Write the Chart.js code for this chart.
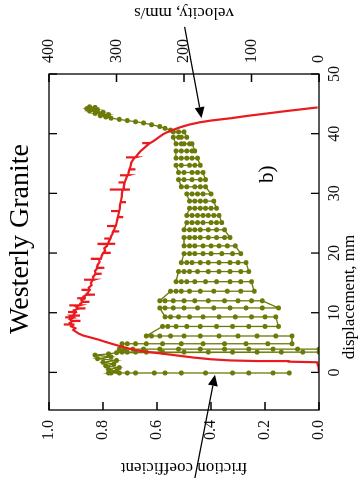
<!DOCTYPE html>
<html>
<head>
<meta charset="utf-8">
<script src="https://cdn.jsdelivr.net/npm/chart.js@4.4.1/dist/chart.umd.min.js"></script>
<style>
  html, body { margin: 0; padding: 0; background: #fff; overflow: hidden; }
  /* the figure is printed turned a quarter turn counter-clockwise */
  #wrap {
    position: absolute; left: 0; top: 0;
    width: 482px; height: 360px;
    transform-origin: 0 0;
    transform: translate(0, 482px) rotate(-90deg);
  }
</style>
</head>
<body>
<div id="wrap"><canvas id="chart" width="482" height="360"></canvas></div>
<script>
// axis ticks
const dispTicks = [0, 10, 20, 30, 40, 50];
const frictionTicks = [0, 0.2, 0.4, 0.6, 0.8, 1.0];
const velocityTicks = [0, 100, 200, 300, 400];

// slip velocity (mm/s) vs load point displacement (mm); one line per stretch
const velDisp = [
  0.0, 1.0, 1.7, 1.8, 1.9, 2.0, 2.2, 2.5, 2.9, 3.2, 3.5, 3.9, 4.3, 4.7, 5.1, 5.5, 5.9,
  6.2, 6.5, 6.8, 7.1, 7.4, 7.7, 8.0, 8.02, 8.04, 8.3, 8.6, 8.62, 8.64, 8.9,
  9.2, 9.22, 9.24, 9.5, 9.52, 9.54, 9.8, 10.1, 10.12, 10.14, 10.4, 10.7, 10.72, 10.74,
  11.0, 11.2, 11.22, 11.24, 11.5, 11.8, 11.82, 11.84, 12.1, 12.4, 12.42, 12.44, 12.7,
  13.0, 13.02, 13.04, 13.4, 13.8, 13.82, 13.84, 14.2, 14.6, 15.0, 15.5, 15.52, 15.54,
  16.0, 16.5, 16.52, 16.54, 17.0, 17.5, 17.52, 17.54, 18.0, 18.5, 19.0, 19.02, 19.04, 19.5,
  20.0, 20.02, 20.04, 20.4, 20.8, 21.2, 21.5, 21.52, 21.54, 21.56, 22.0, 22.4, 22.42, 22.44,
  22.8, 23.2, 23.6, 23.62, 23.64, 24.0, 24.5, 24.52, 24.54, 25.0, 25.5, 26.0, 26.02, 26.04,
  26.5, 27.0, 27.02, 27.04, 27.5, 28.0, 28.5, 28.52, 28.54, 29.0, 29.5, 30.0,
  30.6, 30.62, 30.64, 30.66, 31.2, 31.8, 31.82, 31.84, 32.4, 33.0, 33.02, 33.04, 33.5,
  34.0, 34.02, 34.04, 34.6, 35.2, 35.7, 36.0, 36.02, 36.04, 36.6, 37.0, 37.4, 37.8,
  38.2, 38.4, 38.42, 38.44, 38.7, 39.1, 39.5, 39.9, 40.2, 40.6, 41.1, 41.5,
  41.9, 42.2, 42.6, 43.0, 43.4, 43.8, 44.1, 44.4];
const velocity = [
  0, 1, 3, 45, 90, 130, 160, 187, 215, 236, 260, 278, 292, 304, 316, 327, 340,
  350, 356, 360, 364, 361, 367, 364, 378, 366, 369, 365, 355, 366, 369,
  363, 376, 364, 368, 354, 365, 363, 360, 372, 361, 363, 356, 346, 357,
  360, 356, 370, 355, 354, 350, 340, 351, 352, 347, 358, 348, 349,
  344, 332, 345, 342, 340, 352, 340, 341, 337, 338, 335, 348, 334,
  335, 331, 322, 331, 332, 328, 318, 329, 328, 325, 326, 338, 323, 322,
  320, 310, 319, 317, 318, 314, 314, 328, 302, 313, 311, 309, 318, 309,
  308, 306, 305, 296, 305, 303, 302, 314, 301, 300, 299, 298, 290, 298,
  297, 296, 308, 296, 295, 295, 294, 286, 294, 293, 292, 292,
  291, 310, 280, 290, 289, 288, 297, 288, 286, 284, 295, 283, 282,
  281, 272, 281, 279, 278, 275, 273, 286, 272, 268, 265, 261, 257,
  253, 251, 262, 250, 246, 241, 236, 231, 226, 217, 205, 193,
  177, 160, 130, 105, 76, 48, 25, 2];

// friction: first loading, stick-slip bands, final strengthening
const startDisp = -0.1;
const startFriction = [0.11, 0.17, 0.26, 0.32, 0.42, 0.51, 0.57, 0.61, 0.68, 0.71, 0.74, 0.77, 0.78];
const loadDisp = [0.2, 0.5, 0.8, 1.1, 1.4, 1.7, 2.0, 2.3, 2.6, 2.9, 3.1, 3.3];
const loadFriction = [0.75, 0.78, 0.74, 0.79, 0.76, 0.80, 0.75, 0.82, 0.77, 0.83, 0.78, 0.75];
const slipDisp = [3.4, 3.9, 4.8, 6.1, 7.7, 9.3, 10.8, 12.0, 13.6, 15.2, 16.9, 18.4, 19.9, 21.2, 22.6,
  23.9, 25.1, 26.3, 27.5, 28.7, 29.9, 31.1, 32.3, 33.5, 34.7, 35.9, 37.1, 38.3, 39.4, 40.3];
const slipFriction = [
  [0.73, 0.71, 0.68, 0.64, 0.58, 0.50, 0.41, 0.32, 0.23, 0.14, 0.06, 0.00],
  [0.74, 0.72, 0.69, 0.65, 0.59, 0.52, 0.44, 0.35, 0.26, 0.17, 0.08, 0.00],
  [0.73, 0.71, 0.68, 0.64, 0.58, 0.51, 0.43, 0.35, 0.27, 0.19, 0.10],
  [0.64, 0.62, 0.59, 0.55, 0.50, 0.44, 0.37, 0.30, 0.23, 0.16, 0.10],
  [0.58, 0.56, 0.53, 0.49, 0.44, 0.38, 0.32, 0.26, 0.20, 0.15],
  [0.57, 0.55, 0.52, 0.48, 0.43, 0.37, 0.31, 0.25, 0.20, 0.16],
  [0.59, 0.57, 0.54, 0.50, 0.45, 0.39, 0.33, 0.27, 0.21, 0.15],
  [0.59, 0.57, 0.54, 0.50, 0.46, 0.41, 0.35, 0.30, 0.25, 0.21],
  [0.55, 0.53, 0.51, 0.48, 0.44, 0.39, 0.34, 0.29, 0.24],
  [0.53, 0.51, 0.49, 0.46, 0.42, 0.38, 0.33, 0.29, 0.25],
  [0.52, 0.50, 0.48, 0.45, 0.41, 0.37, 0.33, 0.29, 0.26],
  [0.51, 0.49, 0.47, 0.44, 0.41, 0.37, 0.33, 0.30, 0.27],
  [0.50, 0.48, 0.46, 0.43, 0.40, 0.36, 0.32, 0.29],
  [0.50, 0.48, 0.46, 0.43, 0.40, 0.37, 0.34, 0.31],
  [0.50, 0.48, 0.46, 0.44, 0.41, 0.38, 0.35, 0.33],
  [0.50, 0.48, 0.46, 0.44, 0.41, 0.38, 0.35],
  [0.49, 0.47, 0.45, 0.43, 0.40, 0.38, 0.36],
  [0.49, 0.47, 0.45, 0.43, 0.41, 0.39, 0.37],
  [0.48, 0.46, 0.44, 0.42, 0.40, 0.38],
  [0.48, 0.46, 0.44, 0.42, 0.39],
  [0.49, 0.47, 0.45, 0.43, 0.40],
  [0.51, 0.49, 0.46, 0.44, 0.42],
  [0.52, 0.50, 0.47, 0.44, 0.42],
  [0.52, 0.50, 0.47, 0.45, 0.43],
  [0.53, 0.51, 0.48, 0.46, 0.44],
  [0.53, 0.51, 0.49, 0.47, 0.45],
  [0.53, 0.51, 0.49, 0.47, 0.46],
  [0.53, 0.51, 0.50, 0.48, 0.47],
  [0.54, 0.52, 0.51, 0.49],
  [0.54, 0.52, 0.50]
];
const endDisp = [40.6, 40.9, 41.2, 41.5, 41.8, 42.0, 42.2, 42.4, 42.6, 42.8, 43.0, 43.2, 43.4, 43.6, 43.8, 44.0, 44.2, 44.4, 44.5];
const endFriction = [0.55, 0.57, 0.59, 0.62, 0.65, 0.68, 0.71, 0.74, 0.77, 0.79, 0.81, 0.78, 0.83, 0.80, 0.85, 0.82, 0.86, 0.83, 0.85];

// annotation anchors, in data units
const velArrow = { from: [57.9, 199], to: [42.6, 174] };
const fricArrow = { from: [-17.7, 0.46], to: [-0.4, 0.385] };
const panelLabel = { text: "b)", x: 33.2, y: 0.19 };

const SERIF = "'Liberation Serif', 'Times New Roman', serif";
const RED = "#ea1a1f";
const OLIVE = "#6c7a08";

function frictionPoints() {
    const pts = startFriction.map(f => ({ x: startDisp, y: f }));
    loadDisp.forEach((d, i) => pts.push({ x: d, y: loadFriction[i] }));
    slipFriction.forEach((band, i) => {
        const vals = i % 2 === 0 ? band : band.slice().reverse();
        vals.forEach(f => pts.push({ x: slipDisp[i], y: f }));
    });
    endDisp.forEach((d, i) => pts.push({ x: d, y: endFriction[i] }));
    return pts;
}

function drawArrow(ctx, x1, y1, x2, y2) {
    const a = Math.atan2(y2 - y1, x2 - x1);
    const len = 11, half = 5;
    ctx.beginPath();
    ctx.moveTo(x1, y1);
    ctx.lineTo(x2 - Math.cos(a) * len, y2 - Math.sin(a) * len);
    ctx.stroke();
    ctx.beginPath();
    ctx.moveTo(x2, y2);
    ctx.lineTo(x2 - Math.cos(a) * len - Math.sin(a) * half, y2 - Math.sin(a) * len + Math.cos(a) * half);
    ctx.lineTo(x2 - Math.cos(a) * len + Math.sin(a) * half, y2 - Math.sin(a) * len - Math.cos(a) * half);
    ctx.closePath();
    ctx.fill();
}

const decorations = {
    id: "decorations",
    afterDraw(chart) {
        const { ctx, chartArea: ca, scales } = chart;
        const x = scales.x, yf = scales.y, yv = scales.y2;
        ctx.save();
        ctx.strokeStyle = "#000";
        ctx.fillStyle = "#000";
        ctx.lineWidth = 1.3;

        // frame
        ctx.strokeRect(ca.left, ca.top, ca.right - ca.left, ca.bottom - ca.top);

        // inward tick marks
        const tl = 8;
        ctx.beginPath();
        dispTicks.forEach(v => {
            const px = x.getPixelForValue(v);
            ctx.moveTo(px, ca.bottom); ctx.lineTo(px, ca.bottom - tl);
            ctx.moveTo(px, ca.top); ctx.lineTo(px, ca.top + tl);
        });
        frictionTicks.forEach(v => {
            const py = yf.getPixelForValue(v);
            ctx.moveTo(ca.left, py); ctx.lineTo(ca.left + tl, py);
        });
        velocityTicks.forEach(v => {
            const py = yv.getPixelForValue(v);
            ctx.moveTo(ca.right, py); ctx.lineTo(ca.right - tl, py);
        });
        ctx.stroke();

        // titles
        const cx = (ca.left + ca.right) / 2;
        ctx.textAlign = "center";
        ctx.textBaseline = "alphabetic";
        ctx.font = "28px " + SERIF;
        ctx.fillText("Westerly Granite", cx + 3, 28);

        ctx.font = "17px " + SERIF;
        ctx.fillText("displacement, mm", cx - 55, 354);

        ctx.textBaseline = "middle";
        ctx.save();
        ctx.translate(15, (ca.top + ca.bottom) / 2);
        ctx.rotate(-Math.PI / 2);
        ctx.fillText("friction coefficient", 0, 0);
        ctx.restore();

        ctx.save();
        ctx.translate(470, (ca.top + ca.bottom) / 2);
        ctx.rotate(-Math.PI / 2);
        ctx.fillText("velocity, mm/s", 0, 0);
        ctx.restore();

        // panel label
        ctx.font = "21px " + SERIF;
        ctx.fillText(panelLabel.text, x.getPixelForValue(panelLabel.x), yf.getPixelForValue(panelLabel.y));

        // arrows
        ctx.lineWidth = 1.2;
        drawArrow(ctx,
            x.getPixelForValue(velArrow.from[0]), yv.getPixelForValue(velArrow.from[1]),
            x.getPixelForValue(velArrow.to[0]), yv.getPixelForValue(velArrow.to[1]));
        drawArrow(ctx,
            x.getPixelForValue(fricArrow.from[0]), yf.getPixelForValue(fricArrow.from[1]),
            x.getPixelForValue(fricArrow.to[0]), yf.getPixelForValue(fricArrow.to[1]));
        ctx.restore();
    }
};

Chart.defaults.font.family = SERIF;
Chart.defaults.font.size = 16;
Chart.defaults.color = "#111";

new Chart(document.getElementById("chart"), {
    type: "line",
    data: {
        datasets: [
            {
                label: "velocity",
                data: velDisp.map((d, i) => ({ x: d, y: velocity[i] })),
                yAxisID: "y2",
                borderColor: RED,
                borderWidth: 2.2,
                pointRadius: 0,
                tension: 0
            },
            {
                label: "friction",
                data: frictionPoints(),
                yAxisID: "y",
                borderColor: OLIVE,
                backgroundColor: OLIVE,
                borderWidth: 1.3,
                pointRadius: 2.5,
                pointBorderWidth: 0,
                pointStyle: "circle",
                tension: 0
            }
        ]
    },
    options: {
        responsive: false,
        animation: false,
        devicePixelRatio: 1,
        layout: { padding: { top: 49 } },
        plugins: {
            legend: { display: false },
            tooltip: { enabled: false },
            title: { display: false }
        },
        scales: {
            x: {
                type: "linear",
                position: "bottom",
                min: -6.3,
                max: 50,
                grid: { display: false, drawTicks: false },
                border: { display: false },
                afterBuildTicks: s => { s.ticks = dispTicks.map(v => ({ value: v })); },
                afterFit: s => { s.height = 41; },
                ticks: { padding: 6, maxRotation: 0, callback: v => String(v) }
            },
            y: {
                type: "linear",
                position: "left",
                min: 0,
                max: 1,
                grid: { display: false, drawTicks: false },
                border: { display: false },
                afterBuildTicks: s => { s.ticks = frictionTicks.map(v => ({ value: v })); },
                afterFit: s => { s.width = 72; },
                ticks: { padding: 10, callback: v => v.toFixed(1) }
            },
            y2: {
                type: "linear",
                position: "right",
                min: 0,
                max: 400,
                grid: { display: false, drawTicks: false },
                border: { display: false },
                afterBuildTicks: s => { s.ticks = velocityTicks.map(v => ({ value: v })); },
                afterFit: s => { s.width = 74; },
                ticks: { padding: 11, callback: v => String(v) }
            }
        }
    },
    plugins: [decorations]
});
</script>
</body>
</html>
